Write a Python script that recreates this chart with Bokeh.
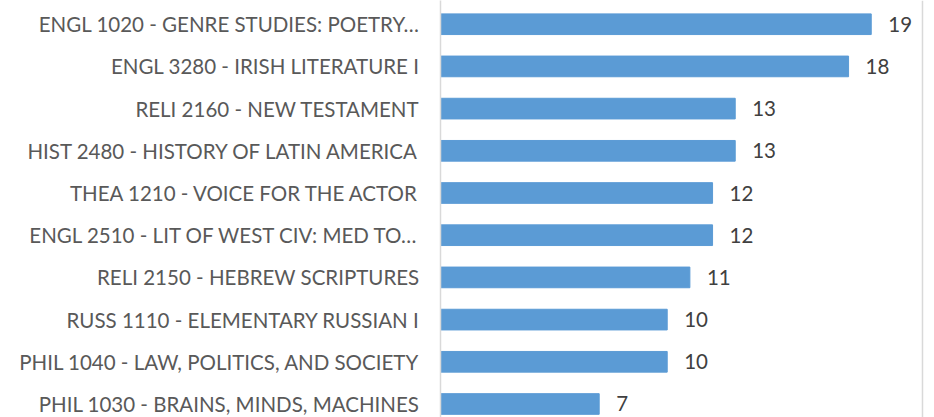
from bokeh.plotting import figure
from bokeh.models import ColumnDataSource, Range1d, FixedTicker, Span
from bokeh.core.properties import value
from bokeh.embed import file_html
from bokeh.resources import INLINE

courses = [
    "ENGL 1020 - GENRE STUDIES: POETRY…",
    "ENGL 3280 - IRISH LITERATURE I",
    "RELI 2160 - NEW TESTAMENT",
    "HIST 2480 - HISTORY OF LATIN AMERICA",
    "THEA 1210 - VOICE FOR THE ACTOR",
    "ENGL 2510 - LIT OF WEST CIV: MED TO…",
    "RELI 2150 - HEBREW SCRIPTURES",
    "RUSS 1110 - ELEMENTARY RUSSIAN I",
    "PHIL 1040 - LAW, POLITICS, AND SOCIETY",
    "PHIL 1030 - BRAINS, MINDS, MACHINES",
]
counts = [19, 18, 13, 13, 12, 12, 11, 10, 10, 7]

n = len(courses)
ypos = [n - 1 - i for i in range(n)]
labels = [str(c) for c in counts]

FONT = "Lato"

src = ColumnDataSource(dict(y=ypos, count=counts, label=labels, course=courses))

p = figure(
    width=934, height=417,
    output_backend="svg", toolbar_location=None,
    x_range=Range1d(0, 21.79), y_range=Range1d(-0.32, 9.562),
    min_border_left=440, min_border_right=0, min_border_top=0, min_border_bottom=0,
)
p.outline_line_color = None
p.xgrid.visible = False
p.ygrid.visible = False
p.xaxis.visible = False

p.hbar(y="y", right="count", left=0, height=0.49, source=src,
       fill_color="#5B9BD5", line_color="#5B9BD5")

p.text(x="count", y="y", text="label", source=src, x_offset=17,
       text_align="left", text_baseline="middle",
       text_font=value(FONT), text_font_size="20.5px", text_color="#404040")

ax = p.yaxis[0]
ax.ticker = FixedTicker(ticks=ypos)
ax.major_label_overrides = {y: c for y, c in zip(ypos, courses)}
ax.major_label_text_font = FONT
ax.major_label_text_font_size = "20.5px"
ax.major_label_text_color = "#595959"
ax.major_label_standoff = 15
ax.major_tick_line_color = None
ax.minor_tick_line_color = None
ax.axis_line_color = "#d9d9d9"
ax.axis_line_width = 1.5

# chart-area border on the right
p.add_layout(Span(location=21.26, dimension="height",
                  line_color="#d9d9d9", line_width=1.5))

open("out.html", "w").write(file_html(p, INLINE))
